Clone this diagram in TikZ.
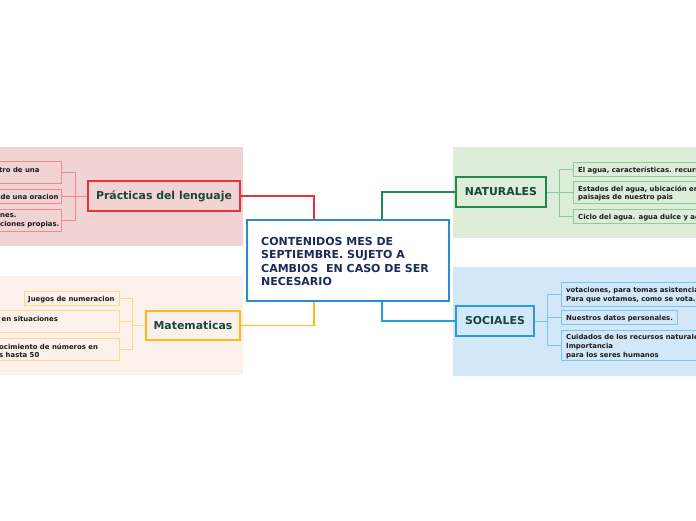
\documentclass[tikz,border=0pt]{standalone}
\usepackage{fontspec}
\setmainfont{DejaVu Sans}
\definecolor{pinkbg}{HTML}{F2D3D4}
\definecolor{peachbg}{HTML}{FCF0EB}
\definecolor{greenbg}{HTML}{DDEDDA}
\definecolor{bluebg}{HTML}{D2E8F8}
\definecolor{redb}{HTML}{E8323C}
\definecolor{orangeb}{HTML}{FDBA1C}
\definecolor{greenb}{HTML}{1F8A4C}
\definecolor{blueb}{HTML}{2B9BE0}
\definecolor{centb}{HTML}{2E8BCE}
\definecolor{redl}{HTML}{EC8C90}
\definecolor{orangel}{HTML}{FDD98A}
\definecolor{greenl}{HTML}{8CCB9C}
\definecolor{bluel}{HTML}{7EC3EE}
\definecolor{maintext}{HTML}{17463A}
\definecolor{centtext}{HTML}{1C2B5A}
\definecolor{smalltext}{HTML}{1A1A1A}
\tikzset{
  mainbox/.style={draw, line width=2pt, inner sep=0pt, text height=7.9pt, text depth=0pt, font=\fontsize{10.9}{13}\selectfont\bfseries, text=maintext},
  childbox/.style={draw, line width=1pt, inner sep=0pt, anchor=north west},
  ctext/.style={anchor=west, inner sep=0pt, align=left, yshift=-1.3pt, font=\fontsize{6.9}{8.7}\selectfont\bfseries, text=smalltext},
  mainline/.style={line width=1.2pt},
  subline/.style={line width=1pt},
}
\begin{document}
\begin{tikzpicture}[x=1pt,y=-1pt]
\useasboundingbox (0,0) rectangle (696,520);
\clip (0,0) rectangle (696,520);
\fill[white] (0,0) rectangle (696,520);
% background regions
\fill[pinkbg] (-5,147) rectangle (243,246);
\fill[peachbg] (-5,276) rectangle (243,375);
\fill[greenbg] (453,147) rectangle (701,238);
\fill[bluebg] (453,267) rectangle (701,376);

% central
\node[draw=centb, line width=1.6pt, fill=white, minimum width=202pt, minimum height=81pt, inner sep=0pt] (c) at (348,260.5) {};
\node[anchor=north west, inner sep=0pt, align=left, font=\fontsize{11}{13.5}\selectfont\bfseries, text=centtext] (ct) at (261,236.7)
 {CONTENIDOS MES DE\\SEPTIEMBRE. SUJETO A\\CAMBIOS \ EN CASO DE SER\\NECESARIO};

% main topics
\node[mainbox, draw=redb, fill=pinkbg, minimum width=152pt, minimum height=30pt] (pl) at (164,196) {Prácticas del lenguaje};
\node[mainbox, draw=orangeb, fill=peachbg, minimum width=94pt, minimum height=29pt] (ma) at (193,325.5) {Matematicas};
\node[mainbox, draw=greenb, fill=greenbg, minimum width=90pt, minimum height=30pt] (na) at (501,192) {NATURALES};
\node[mainbox, draw=blueb, fill=bluebg, minimum width=78pt, minimum height=30pt] (so) at (495,321) {SOCIALES};

% main connectors
\draw[mainline, draw=redb] ([xshift=-34pt]c.north) |- (pl.east);
\draw[mainline, draw=orangeb] ([xshift=-34pt]c.south) |- (ma.east);
\draw[mainline, draw=greenb] ([xshift=34pt]c.north) |- (na.west);
\draw[mainline, draw=blueb] ([xshift=34pt]c.south) |- (so.west);

% Practicas children
\node[childbox, draw=redl, fill=pinkbg, minimum width=70pt, minimum height=22pt] (p1) at (-9,161) {};
\node[childbox, draw=redl, fill=pinkbg, minimum width=70pt, minimum height=14pt] (p2) at (-9,189) {};
\node[childbox, draw=redl, fill=pinkbg, minimum width=70pt, minimum height=22pt] (p3) at (-9,209) {};
\node[ctext] (p1t) at (-1,168.5) {tro de una};
\node[ctext] (p2t) at (0.5,196) {de una oracion};
\node[ctext] (p3t) at (0,219.7) {nes.\\ciones propias.};
\draw[subline, draw=redl] (pl.west) -- ++(-12,0) |- (p1.east);
\draw[subline, draw=redl] (pl.west) -- ++(-12,0) |- (p2.east);
\draw[subline, draw=redl] (pl.west) -- ++(-12,0) |- (p3.east);

% Matematicas children
\node[childbox, draw=orangel, fill=peachbg, minimum width=95pt, minimum height=14pt] (m1) at (24,291) {};
\node[childbox, draw=orangel, fill=peachbg, minimum width=128pt, minimum height=22pt] (m2) at (-9,310) {};
\node[childbox, draw=orangel, fill=peachbg, minimum width=128pt, minimum height=22pt] (m3) at (-9,338) {};
\node[ctext] (m1t) at (28,298) {Juegos de numeracion};
\node[ctext] (m2t) at (1.5,317.5) {en situaciones};
\node[ctext] (m3t) at (-1,349.5) {ocimiento de números en\\s hasta 50};
\draw[subline, draw=orangel] (ma.west) -- ++(-13,0) |- (m1.east);
\draw[subline, draw=orangel] (ma.west) -- ++(-13,0) |- (m2.east);
\draw[subline, draw=orangel] (ma.west) -- ++(-13,0) |- (m3.east);

% Naturales children
\node[childbox, draw=greenl, fill=greenbg, minimum width=140pt, minimum height=14pt] (n1) at (573,162) {};
\node[childbox, draw=greenl, fill=greenbg, minimum width=140pt, minimum height=22pt] (n2) at (573,181) {};
\node[childbox, draw=greenl, fill=greenbg, minimum width=140pt, minimum height=14pt] (n3) at (573,209) {};
\node[ctext] (n1t) at (578,169) {El agua, características. recursos};
\node[ctext] (n2t) at (578,192.3) {Estados del agua, ubicación en\\paisajes de nuestro pais};
\node[ctext] (n3t) at (578,216) {Ciclo del agua. agua dulce y agua};
\draw[subline, draw=greenl] (na.east) -- ++(12,0) |- (n1.west);
\draw[subline, draw=greenl] (na.east) -- ++(12,0) |- (n2.west);
\draw[subline, draw=greenl] (na.east) -- ++(12,0) |- (n3.west);

% Sociales children
\node[childbox, draw=bluel, fill=bluebg, minimum width=150pt, minimum height=24pt] (s1) at (561,282) {};
\node[childbox, draw=bluel, fill=bluebg, minimum width=116pt, minimum height=14pt] (s2) at (561,310) {};
\node[childbox, draw=bluel, fill=bluebg, minimum width=150pt, minimum height=30pt] (s3) at (561,330) {};
\node[ctext] (s1t) at (566,293.8) {votaciones, para tomas asistencia\\Para que votamos, como se vota.};
\node[ctext] (s2t) at (566,317) {Nuestros datos personales.};
\node[ctext] (s3t) at (566,345.3) {Cuidados de los recursos naturales\\Importancia\\para los seres humanos};
\draw[subline, draw=bluel] (so.east) -- ++(12,0) |- (s1.west);
\draw[subline, draw=bluel] (so.east) -- ++(12,0) |- (s2.west);
\draw[subline, draw=bluel] (so.east) -- ++(12,0) |- (s3.west);
\end{tikzpicture}
\end{document}
